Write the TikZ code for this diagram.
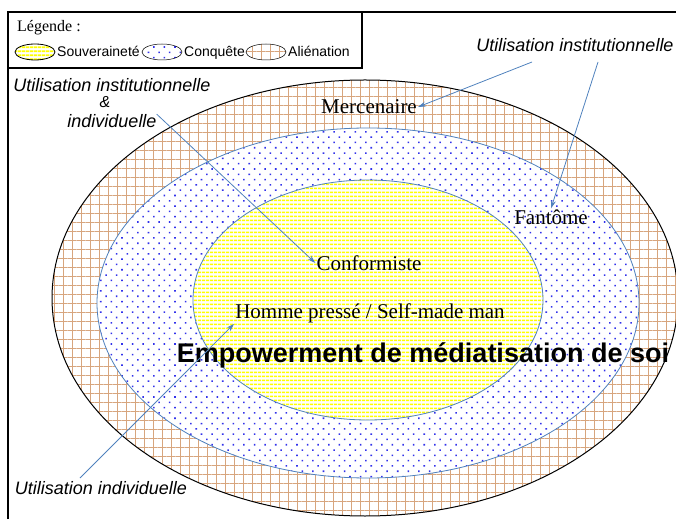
\documentclass[tikz,border=0pt]{standalone}
\usepackage{fontspec}
\setmainfont{Liberation Serif}
\setsansfont{Liberation Sans}
\usetikzlibrary{patterns.meta,arrows.meta}
\definecolor{arrowblue}{RGB}{79,129,189}
\definecolor{hatchbrown}{RGB}{215,165,125}
\definecolor{dotblue}{RGB}{50,50,235}
\tikzset{
	lbl/.style={font=\fontsize{21}{24}\selectfont, inner sep=1pt},
	usage/.style={font=\fontsize{18}{20}\selectfont\sffamily\itshape, inner sep=0pt},
	legtext/.style={font=\fontsize{14}{16}\selectfont\sffamily, anchor=base west, inner sep=1pt},
	ptr/.style={-{Stealth[length=8pt,width=5pt]}, draw=arrowblue, line width=.8pt},
	souvfill/.style={preaction={fill=white}, pattern={Lines[distance=4pt,line width=2pt]}, pattern color=yellow},
	conqfill/.style={preaction={fill=white}, pattern={Dots[distance=7.5pt,radius=1.1pt,angle=45]}, pattern color=dotblue},
	alienfill/.style={preaction={fill=white}, pattern={Hatch[distance=9pt,line width=.45pt,angle=0]}, pattern color=hatchbrown},
}
\begin{document}
\begin{tikzpicture}[x=1pt,y=1pt]
	\useasboundingbox (0,0) rectangle (676,519);
	\clip (0,0) rectangle (676,519);

		\draw[alienfill, line width=1pt] (365,221) ellipse [x radius=313pt, y radius=218pt];
		\draw[conqfill, draw=arrowblue, line width=.8pt] (368,216) ellipse [x radius=271pt, y radius=175pt];
		\draw[souvfill, draw=arrowblue, line width=.8pt] (368,219) ellipse [x radius=175pt, y radius=120pt];

		\node[lbl] (merc) at (369,412){Mercenaire};
		\node[lbl] (fant) at (551,302){Fantôme};
		\node[lbl] (conf) at (369,256){Conformiste};
		\node[lbl] (homme) at (370,206){Homme pressé / Self-made man};
		\node[font=\fontsize{27}{30}\selectfont\sffamily\bfseries, inner sep=0pt] (empow) at (423,164){Empowerment de médiatisation de soi};

		\node[usage] (instL) at (112,434){Utilisation institutionnelle};
		\node[usage, font=\fontsize{16}{16}\selectfont\sffamily\itshape] (amp) at (105,417){\&};
		\node[usage] (indivL) at (112,398){individuelle};
		\node[usage] (instR) at (575,474){Utilisation institutionnelle};
		\node[usage] (indivB) at (101,31){Utilisation individuelle};

		\coordinate (instRa) at (532,457);
		\coordinate (instRb) at (598,457);
		\coordinate (indivBa) at (80,41);

		\draw[ptr] (indivL.north east) -- (conf.west);
		\draw[ptr] (instRa) -- (merc.east);
		\draw[ptr] (instRb) -- (fant.north);
		\draw[ptr] (indivBa) -- (homme.south west);

		\draw[line width=1.5pt] (8,0) -- (8,507) -- (676,507);
		\draw[line width=1.5pt] (8,451) rectangle (362,507);
		\node[font=\fontsize{16}{18}\selectfont, anchor=base west, inner sep=1pt] (legtitle) at (16,487){Légende :};
		\draw[souvfill, line width=.8pt] (35,467) ellipse [x radius=20pt, y radius=8pt];
		\node[legtext] (souv) at (56,462){Souveraineté};
		\draw[conqfill, line width=.5pt] (162,467) ellipse [x radius=20pt, y radius=8pt];
		\node[legtext] (conq) at (183,462){Conquête};
		\draw[alienfill, line width=.5pt] (266,467) ellipse [x radius=20pt, y radius=8pt];
		\node[legtext] (alien) at (287,462){Aliénation};
\end{tikzpicture}
\end{document}
